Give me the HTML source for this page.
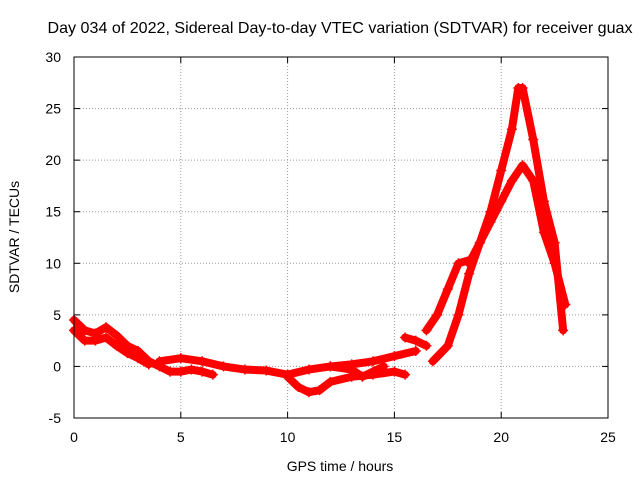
<!DOCTYPE html>
<html><head><meta charset="utf-8">
<style>
body{margin:0;background:#fff;}
svg{display:block;font-family:"Liberation Sans",sans-serif;}
</style></head>
<body>
<svg id="chart" width="640" height="480" viewBox="0 0 640 480">
<rect width="640" height="480" fill="#fff"/>
<text x="340" y="33" font-size="16" text-anchor="middle" textLength="585" lengthAdjust="spacingAndGlyphs">Day 034 of 2022, Sidereal Day-to-day VTEC variation (SDTVAR) for receiver guax</text>
<g id="grid"></g>
<g id="series"></g>
<rect x="74" y="57" width="534" height="361" fill="none" stroke="#000" stroke-width="1"/>
<g id="ticks"></g>
<text x="340" y="471" font-size="14" text-anchor="middle">GPS time / hours</text>
<text transform="translate(19,237) rotate(-90)" font-size="14" text-anchor="middle">SDTVAR / TECUs</text>
</svg>
<script>
const xTicks=[0,5,10,15,20,25];
const yTicks=[-5,0,5,10,15,20,25,30];
const trackA_x=[0,0.5,1,1.5,2,2.5,3,3.5,4,4.5,5,5.5,6,6.5];
const trackA_y=[4.5,3.5,3.2,3.8,3,2,1.5,0.5,0,-0.5,-0.5,-0.3,-0.5,-0.8];
const trackB_x=[0,0.5,1,1.5,2,2.5,3,3.5];
const trackB_y=[3.5,2.5,2.5,2.8,2,1.3,0.8,0.2];
const trackC_x=[4,5,6,7,8,9,10,11,12,13,14,15,16];
const trackC_y=[0.5,0.8,0.5,0,-0.3,-0.4,-0.8,-0.3,0,0.2,0.5,1,1.5];
const trackD_x=[10,10.5,11,11.5,12,13,14,15,15.5];
const trackD_y=[-1,-2,-2.5,-2.3,-1.5,-1,-0.8,-0.5,-0.8];
const trackE_x=[12,13,13.5,14,14.5];
const trackE_y=[0,-0.3,-1,-0.5,0];
const trackF_x=[15.5,16,16.5];
const trackF_y=[2.8,2.5,2];
const trackG_x=[16.5,17,17.5,18,18.5];
const trackG_y=[3.5,5,7.5,10,10.3];
const trackH_x=[16.8,17.5,18,18.5,19,19.5,20,20.5,21,21.5,22,22.5,23];
const trackH_y=[0.5,2,5,9,12,14,16,18,19.5,18,13,10,6];
const trackI_x=[18.5,19,19.5,20,20.5,20.8,21,21.5,22,22.5,22.9];
const trackI_y=[10,12,15,19,23,27,27,22,16,12,3.5];
const tracks=[[trackA_x,trackA_y],[trackB_x,trackB_y],[trackC_x,trackC_y],[trackD_x,trackD_y],[trackE_x,trackE_y],[trackF_x,trackF_y],[trackG_x,trackG_y],[trackH_x,trackH_y],[trackI_x,trackI_y]];
const X=v=>74+v*(534/25);
const Y=v=>418-(v+5)*(361/35);
const NS="http://www.w3.org/2000/svg";
const grid=document.getElementById('grid'),ticks=document.getElementById('ticks'),ser=document.getElementById('series');
function mk(t,a,p){const e=document.createElementNS(NS,t);for(const k in a)e.setAttribute(k,a[k]);p.appendChild(e);return e;}
xTicks.forEach(v=>{
  if(v>0&&v<25){const g=mk('line',{x1:X(v),x2:X(v),y1:57,y2:418,stroke:'#999','stroke-dasharray':'1,2'},grid);
  
  }
  mk('line',{x1:X(v),x2:X(v),y1:418,y2:412,stroke:'#000'},ticks);
  mk('line',{x1:X(v),x2:X(v),y1:57,y2:63,stroke:'#000'},ticks);
  const t=mk('text',{x:X(v),y:442,'font-size':14,'text-anchor':'middle'},ticks);t.textContent=v;
  
  
});
yTicks.forEach(v=>{
  if(v>-5&&v<30){const g=mk('line',{x1:74,x2:608,y1:Y(v),y2:Y(v),stroke:'#999','stroke-dasharray':'1,2'},grid);
  
  }
  mk('line',{x1:74,x2:80,y1:Y(v),y2:Y(v),stroke:'#000'},ticks);
  mk('line',{x1:602,x2:608,y1:Y(v),y2:Y(v),stroke:'#000'},ticks);
  const t=mk('text',{x:61,y:Y(v)+5,'font-size':14,'text-anchor':'end'},ticks);t.textContent=v;
  
  
});
tracks.forEach(([xs,ys])=>{
  const p=mk('polyline',{points:xs.map((x,i)=>X(x)+','+Y(ys[i])).join(' '),fill:'none',stroke:'#f00','stroke-width':8,'stroke-linejoin':'round','stroke-linecap':'round'},ser);
  
  
  xs.forEach((x,i)=>{const cx=X(x),cy=Y(ys[i]);
    const m=mk('path',{d:`M${cx-5},${cy}H${cx+5}M${cx},${cy-5}V${cy+5}`,stroke:'#f00','stroke-width':1.5},ser);
    
    
  });
});
</script>
</body></html>
